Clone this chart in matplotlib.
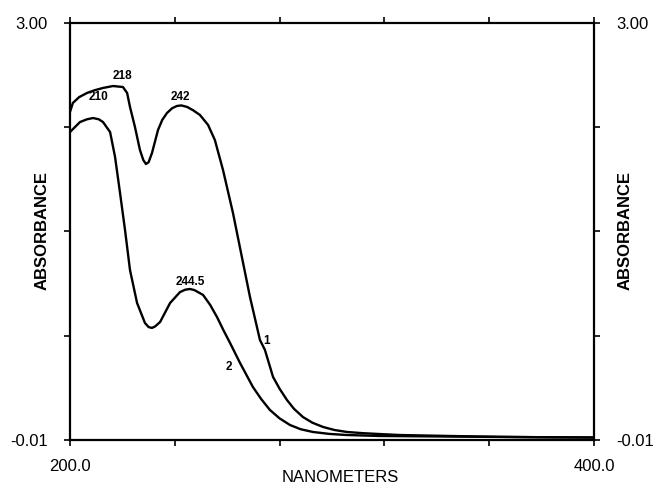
import numpy as np
import matplotlib
matplotlib.use('Agg')
import matplotlib.pyplot as plt

plt.rcParams['font.family'] = ['Liberation Sans', 'DejaVu Sans']

# Spectrum 1 (upper curve) - wavelength (nm) and absorbance
wl1 = [200.0, 201.1, 203.5, 206.5, 209.5, 212.6, 216.4, 220.2, 221.8, 222.9,
       224.8, 226.7, 228.0, 229.0, 230.0, 231.3, 233.6, 235.2, 237.0, 239.0,
       240.8, 242.5, 244.7, 247.0, 249.6, 252.7, 255.3, 258.4, 262.2, 265.6,
       268.7, 272.5, 274.4, 277.5, 280.0, 282.8, 285.5, 288.9, 292.5, 296.6,
       301.0, 305.7, 312.0, 318.3, 326.0, 345.0, 364.0, 380.0, 400.0]
abs1 = [2.358, 2.423, 2.465, 2.495, 2.515, 2.531, 2.545, 2.538, 2.495, 2.394,
        2.249, 2.083, 2.010, 1.982, 1.995, 2.062, 2.228, 2.300, 2.350, 2.385,
        2.401, 2.405, 2.394, 2.370, 2.336, 2.264, 2.155, 1.939, 1.629, 1.311,
        1.022, 0.712, 0.640, 0.445, 0.360, 0.279, 0.215, 0.156, 0.115, 0.084,
        0.062, 0.048, 0.039, 0.033, 0.026, 0.019, 0.013, 0.010, 0.008]

# Spectrum 2 (lower curve)
wl2 = [200.0, 203.8, 206.5, 208.8, 211.0, 212.6, 215.3, 217.2, 219.1, 221.0,
       222.9, 225.6, 228.6, 230.0, 231.3, 232.5, 234.4, 238.2, 242.0, 244.0,
       245.8, 247.5, 250.8, 253.5, 256.1, 258.5, 261.1, 264.9, 269.8, 273.0,
       276.3, 280.0, 284.0, 288.0, 292.7, 299.0, 305.7, 318.3, 345.0, 364.0,
       380.0, 400.0]
abs2 = [2.213, 2.285, 2.305, 2.314, 2.305, 2.285, 2.213, 2.033, 1.773, 1.506,
        1.217, 0.979, 0.835, 0.805, 0.799, 0.810, 0.842, 0.979, 1.058, 1.075,
        1.080, 1.072, 1.037, 0.965, 0.878, 0.785, 0.690, 0.546, 0.373, 0.285,
        0.207, 0.146, 0.098, 0.068, 0.048, 0.034, 0.026, 0.019, 0.015, 0.012,
        0.010, 0.008]

# peak labels: text, x, y
peak_txt = ['218', '210', '242', '244.5', '1', '2']
peak_x = [220.2, 210.7, 242.0, 245.8, 275.2, 260.7]
peak_y = [2.617, 2.466, 2.466, 1.130, 0.705, 0.517]

x_ticks = [200, 240, 280, 320, 360, 400]
x_ticklabels = ['200.0', '', '', '', '', '400.0']
y_ticks = list(np.linspace(-0.01, 3.00, 5))
y_ticklabels = ['-0.01', '', '', '', '3.00']

fig = plt.figure(figsize=(6.56, 4.84), dpi=100)
ax = fig.add_axes([0.1067, 0.0909, 0.7988, 0.8616])

ax.plot(wl1, abs1, color='black', lw=1.7, solid_joinstyle='round')
ax.plot(wl2, abs2, color='black', lw=1.7, solid_joinstyle='round')

for t, x, y in zip(peak_txt, peak_x, peak_y):
    ax.text(x, y, t, fontsize=8.5, ha='center', va='center', fontweight='bold')

ax.set_xlim(200, 400)
ax.set_ylim(-0.01, 3.00)

ax.set_xticks(x_ticks)
ax.set_xticklabels(x_ticklabels, fontsize=12)
ax.set_yticks(y_ticks)
ax.set_yticklabels(y_ticklabels, fontsize=12)
ax.tick_params(axis='x', direction='out', length=4, width=1.2, top=True, pad=10)
ax.tick_params(axis='y', direction='out', length=4, width=1.2, right=True,
               labelright=True, pad=12)

for s in ax.spines.values():
    s.set_linewidth(1.6)

# axis titles placed in figure coords, like the scan
fig.text(340 / 656, 1 - 477 / 484, 'NANOMETERS', fontsize=12,
         ha='center', va='center')
fig.text(42 / 656, 1 - 230 / 484, 'ABSORBANCE', fontsize=12,
         ha='center', va='center', rotation=90, fontweight='bold')
fig.text(625 / 656, 1 - 230 / 484, 'ABSORBANCE', fontsize=12,
         ha='center', va='center', rotation=90, fontweight='bold')

fig.savefig('out.png', dpi=100)
